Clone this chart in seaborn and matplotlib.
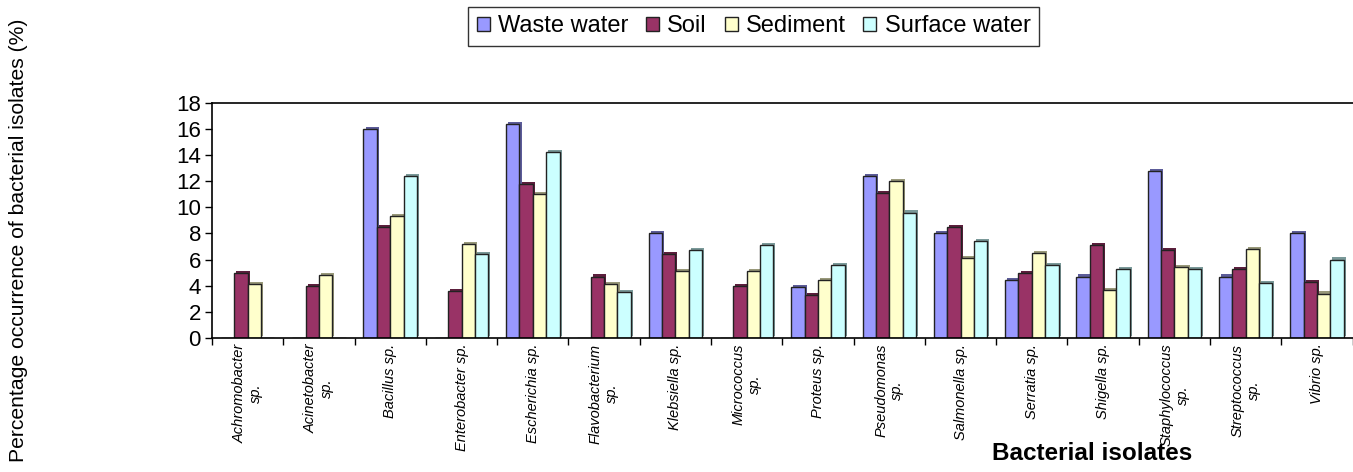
import numpy as np
import pandas as pd
import seaborn as sns
import matplotlib.pyplot as plt
import matplotlib.patheffects as pe

# data
isolates = ["Achromobacter\nsp.", "Acinetobacter\nsp.", "Bacillus sp.", "Enterobacter sp.",
            "Escherichia sp.", "Flavobacterium\nsp.", "Klebsiella sp.", "Micrococcus\nsp.",
            "Proteus sp.", "Pseudomonas\nsp.", "Salmonella sp.", "Serratia sp.",
            "Shigella sp.", "Staphylococcus\nsp.", "Streptococcus\nsp.", "Vibrio sp."]
sources = ["Waste water", "Soil", "Sediment", "Surface water"]
waste_water = [0, 0, 16.0, 0, 16.4, 0, 8.0, 0, 3.9, 12.4, 8.0, 4.4, 4.7, 12.8, 4.7, 8.0]
soil = [5.0, 4.0, 8.5, 3.6, 11.8, 4.7, 6.4, 4.0, 3.3, 11.1, 8.5, 5.0, 7.1, 6.7, 5.3, 4.3]
sediment = [4.1, 4.8, 9.3, 7.2, 11.0, 4.1, 5.1, 5.1, 4.4, 12.0, 6.1, 6.5, 3.7, 5.4, 6.8, 3.4]
surface_water = [0, 0, 12.4, 6.4, 14.2, 3.5, 6.7, 7.1, 5.6, 9.6, 7.4, 5.6, 5.3, 5.3, 4.2, 6.0]
colors = ["#9999FF", "#993366", "#FFFFCC", "#CCFFFF"]

df = pd.DataFrame({"isolate": isolates * 4,
                   "source": np.repeat(sources, len(isolates)),
                   "value": waste_water + soil + sediment + surface_water})

sns.set_style("white")
plt.rcParams["font.family"] = ["Liberation Sans", "DejaVu Sans"]
plt.rcParams["text.color"] = "black"
plt.rcParams["axes.labelcolor"] = "black"
plt.rcParams["xtick.color"] = "black"
plt.rcParams["ytick.color"] = "black"

fig = plt.figure(figsize=(13.53, 4.72), dpi=100)
ax = fig.add_axes([0.1567, 0.2839, 0.8430, 0.4985])

sns.barplot(data=df, x="isolate", y="value", hue="source", palette=colors,
            saturation=1, width=0.75, edgecolor="#222222", linewidth=1, ax=ax)

# excel-like 3d extrusion on the bars
for bar in ax.patches:
    if bar.get_height() > 0:
        bar.set_path_effects([pe.SimplePatchShadow(offset=(1.5, 1.5), rho=0.6, alpha=1),
                              pe.Normal()])

handles, labels = ax.get_legend_handles_labels()
ax.get_legend().remove()
leg = fig.legend(handles, labels, loc="center", bbox_to_anchor=(0.557, 0.944), ncol=4,
                 fontsize=17, frameon=True, fancybox=False, edgecolor="black",
                 handlelength=0.55, handleheight=0.55, handletextpad=0.35,
                 columnspacing=0.75, borderpad=0.35)
leg.get_frame().set_linewidth(1)

ax.set_xlim(-0.5, 15.5)
ax.set_ylim(0, 18)
ax.set_yticks(np.arange(0, 19, 2))
ax.tick_params(axis="y", labelsize=16, length=5, width=1, direction="out", left=True, pad=3)
ax.set_xticks(np.arange(-0.5, 16, 1), minor=True)
ax.tick_params(axis="x", which="major", length=0, pad=4)
ax.tick_params(axis="x", which="minor", length=5, width=1, direction="out", bottom=True)
ax.set_xticklabels(isolates, rotation=90, fontsize=10.5, style="italic",
                   ha="center", va="top", multialignment="center")

for side in ["left", "bottom", "top"]:
    ax.spines[side].set_color("black")
    ax.spines[side].set_linewidth(1.2)
ax.spines["right"].set_visible(False)

ax.set_ylabel("Percentage occurrence of bacterial isolates (%)", fontsize=15.2)
ax.yaxis.set_label_coords(-0.161, 0.417)
ax.set_xlabel("Bacterial isolates", fontsize=17.5, fontweight="bold")
ax.xaxis.set_label_coords(0.772, -0.489)
ax.xaxis.label.set_va("center")

fig.savefig("out.png", dpi=100)
